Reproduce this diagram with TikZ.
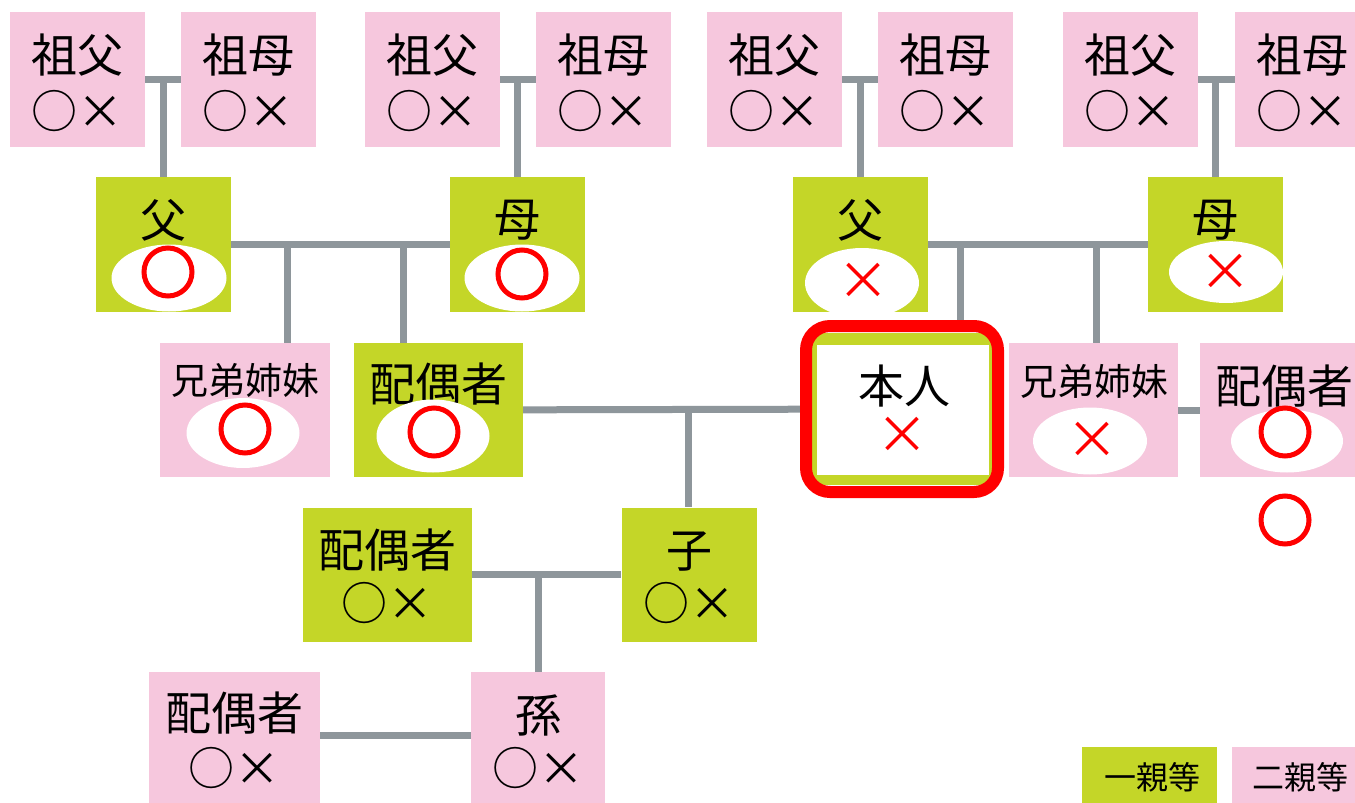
\documentclass[tikz,border=0pt]{standalone}
\usepackage{fontspec}
\newfontfamily\cjk{Noto Sans CJK JP}
\usetikzlibrary{shapes.geometric,calc}
\definecolor{pk}{RGB}{246,199,221}
\definecolor{gn}{RGB}{196,214,40}
\definecolor{gy}{RGB}{142,150,155}
\definecolor{rd}{RGB}{255,0,0}
\pgfdeclarelayer{bg}
\pgfsetlayers{bg,main}
\tikzset{
  pinkbox/.style={rectangle, fill=pk, inner sep=0, minimum width=135, minimum height=135},
  greenbox/.style={rectangle, fill=gn, inner sep=0, minimum width=135, minimum height=135},
  big/.style={inner sep=0, font=\cjk\fontsize{46}{50}\selectfont},
  mid/.style={inner sep=0, font=\cjk\fontsize{37}{40}\selectfont},
  small/.style={inner sep=0, font=\cjk\fontsize{32}{36}\selectfont},
  ell/.style={ellipse, fill=white, inner sep=0, minimum width=114, minimum height=68},
  ring/.style={circle, draw=rd, line width=5, minimum size=48, inner sep=0},
  redx/.style={inner sep=0, text=rd, font=\cjk\fontsize{52}{56}\selectfont},
  link/.style={draw=gy, line width=7}
}
\begin{document}
\begin{tikzpicture}[x=1pt,y=-1pt]
\useasboundingbox (0,0) rectangle (1355,803);
% grandparents
\foreach \n/\cx/\t in {gf1/77.5/祖父, gm1/248.5/祖母, gf2/432.5/祖父, gm2/603.5/祖母, gf3/774.5/祖父, gm3/945.5/祖母, gf4/1130.5/祖父, gm4/1302.5/祖母}{
  \node[pinkbox] (\n) at (\cx,79.5) {};
  \node[big] (\n-t) at (\cx,55) {\t};
  \node[big] (\n-m) at (\cx,111) {○×};
}
% parents
\node[greenbox] (f1) at (163,244.5) {};
\node[big] (f1-t) at (163,220) {父};
\node[ell, minimum width=115, minimum height=67] (f1-e) at (169,278) {};
\node[ring] (f1-r) at (168,272) {};
\node[greenbox] (m1) at (517.5,244.5) {};
\node[big] (m1-t) at (517.5,220) {母};
\node[ell, minimum width=115, minimum height=67] (m1-e) at (522,278) {};
\node[ring] (m1-r) at (522,274) {};
\node[greenbox] (f3) at (860.5,244.5) {};
\node[big] (f3-t) at (860.5,220) {父};
\node[ell, minimum width=114, minimum height=70] (f3-e) at (862,283) {};
\node[redx] (f3-x) at (863,281) {×};
\node[greenbox] (m3) at (1215.5,244.5) {};
\node[big] (m3-t) at (1215.5,220) {母};
\node[ell, minimum width=114, minimum height=62] (m3-e) at (1226,272) {};
\node[redx] (m3-x) at (1225,272) {×};
% row 3
\node[pinkbox, minimum width=170, minimum height=134] (sib1) at (245,410) {};
\node[mid] (sib1-t) at (245,380) {兄弟姉妹};
\node[ell, minimum width=113, minimum height=70] (sib1-e) at (243,433) {};
\node[ring] (sib1-r) at (245,429) {};
\node[greenbox, minimum width=169, minimum height=134] (sp1) at (438.5,410) {};
\node[big] (sp1-t) at (438,384) {配偶者};
\node[ell, minimum width=113, minimum height=73] (sp1-e) at (433,436) {};
\node[ring] (sp1-r) at (434,432) {};
% self
\node[rectangle, fill=gn, inner sep=0, minimum width=180, minimum height=152] (meg) at (902,409) {};
\node[rectangle, fill=white, inner sep=0, minimum width=172, minimum height=130] (me) at (903,410) {};
\node[rectangle, draw=rd, line width=12, rounded corners=24, inner sep=0, minimum width=192, minimum height=166] (meframe) at (902,409) {};
\node[big] (me-t) at (904,386) {本人};
\node[redx] (me-x) at (902,435) {×};
\node[pinkbox, minimum width=169, minimum height=134] (sib2) at (1093.5,410) {};
\node[mid] (sib2-t) at (1094,381) {兄弟姉妹};
\node[ell, minimum width=114, minimum height=67] (sib2-e) at (1090,441) {};
\node[redx] (sib2-x) at (1092,440) {×};
\node[pinkbox, minimum width=170, minimum height=134] (sp2) at (1285,410) {};
\node[big] (sp2-t) at (1284,386) {配偶者};
\node[ell, minimum width=112, minimum height=63] (sp2-e) at (1287,441) {};
\node[ring] (sp2-r) at (1285,432) {};
\node[ring] (sp2-r2) at (1285,520) {};
% row 4
\node[greenbox, minimum width=169, minimum height=134] (sp3) at (387.5,574.5) {};
\node[big] (sp3-t) at (387,550) {配偶者};
\node[big] (sp3-m) at (387,603) {○×};
\node[greenbox, minimum width=135, minimum height=134] (ch) at (689,574.5) {};
\node[big] (ch-t) at (689,552) {子};
\node[big] (ch-m) at (689,603) {○×};
% row 5
\node[pinkbox, minimum width=171, minimum height=136] (sp4) at (234.5,740) {};
\node[big] (sp4-t) at (234,713) {配偶者};
\node[big] (sp4-m) at (234,768) {○×};
\node[pinkbox, minimum width=134, minimum height=136] (gc) at (538,740) {};
\node[big] (gc-t) at (538,715) {孫};
\node[big] (gc-m) at (538,768) {○×};
% legend
\node[greenbox, minimum width=135, minimum height=63] (lg1) at (1149.5,778.5) {};
\node[small] (lg1-t) at (1152,777) {一親等};
\node[pinkbox, minimum width=138, minimum height=63] (lg2) at (1301,778.5) {};
\node[small] (lg2-t) at (1300,777) {二親等};
% connectors
\begin{pgfonlayer}{bg}
\fill[white] (0,0) rectangle (1355,803);
\draw[link] (gf1) -- (gm1);
\draw[link] (f1.north |- gf1.east) -- (f1.north);
\draw[link] (gf2) -- (gm2);
\draw[link] (m1.north |- gf2.east) -- (m1.north);
\draw[link] (gf3) -- (gm3);
\draw[link] (f3.north |- gf3.east) -- (f3.north);
\draw[link] (gf4) -- (gm4);
\draw[link] (m3.north |- gf4.east) -- (m3.north);
\draw[link] (f1) -- (m1);
\coordinate (j1) at (287,244.5);
\coordinate (j2) at (403,244.5);
\draw[link] (j1) -- (j1 |- sib1.north);
\draw[link] (j2) -- (j2 |- sp1.north);
\draw[link] (f3) -- (m3);
\coordinate (j3) at (960,244.5);
\coordinate (j4) at (1096,244.5);
\draw[link] (j3) -- (j3 |- meframe.north);
\draw[link] (j4) -- (j4 |- sib2.north);
\draw[link] (sp1) -- (meframe);
\coordinate (j5) at (688,410);
\draw[link] (j5) -- (j5 |- ch.north);
\draw[link] (sib2) -- (sp2);
\draw[link] (sp3) -- (ch);
\coordinate (j6) at (538,574.5);
\draw[link] (j6) -- (j6 |- gc.north);
\draw[link] ([yshift=5pt]sp4.east) -- ([yshift=5pt]gc.west);
\end{pgfonlayer}
\end{tikzpicture}
\end{document}
